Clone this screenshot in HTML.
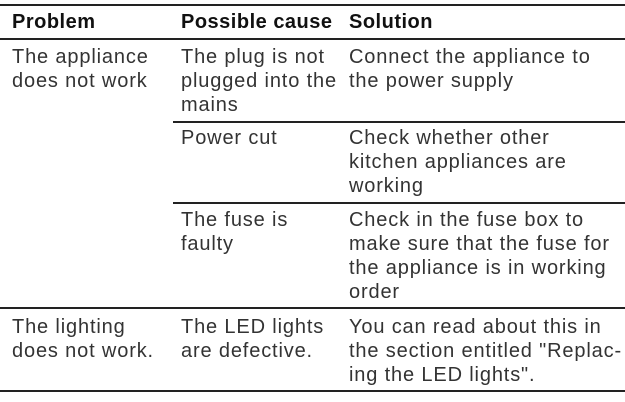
<!DOCTYPE html>
<html><head><style>
body{margin:0;width:625px;height:402px;background:#fff;position:relative;overflow:hidden;font-family:"Liberation Sans",sans-serif;color:#333}
.l{position:absolute;height:2px;background:#222;right:0}
.t{position:absolute;font-size:20px;line-height:24px;white-space:nowrap;letter-spacing:0.85px}
.b{font-weight:bold;color:#111;letter-spacing:0.5px}
</style></head><body>
<div class="l" style="top:4px;left:0"></div>
<div class="l" style="top:38px;left:0"></div>
<div class="l" style="top:121px;left:173px"></div>
<div class="l" style="top:202px;left:173px"></div>
<div class="l" style="top:307px;left:0"></div>
<div class="l" style="top:390px;left:0"></div>

<div class="t b" style="top:10px;left:12px">Problem</div>
<div class="t b" style="top:10px;left:181px">Possible cause</div>
<div class="t b" style="top:10px;left:349px">Solution</div>

<div class="t" style="top:45px;left:12px">The appliance<br>does not work</div>
<div class="t" style="top:45px;left:181px">The plug is not<br>plugged into the<br>mains</div>
<div class="t" style="top:45px;left:349px">Connect the appliance to<br>the power supply</div>

<div class="t" style="top:126px;left:181px">Power cut</div>
<div class="t" style="top:126px;left:349px">Check whether other<br>kitchen appliances are<br>working</div>

<div class="t" style="top:208px;left:181px">The fuse is<br>faulty</div>
<div class="t" style="top:208px;left:349px">Check in the fuse box to<br>make sure that the fuse for<br>the appliance is in working<br>order</div>

<div class="t" style="top:315px;left:12px">The lighting<br>does not work.</div>
<div class="t" style="top:315px;left:181px">The LED lights<br>are defective.</div>
<div class="t" style="top:315px;left:349px">You can read about this in<br>the section entitled "Replac-<br>ing the LED lights".</div>
</body></html>
